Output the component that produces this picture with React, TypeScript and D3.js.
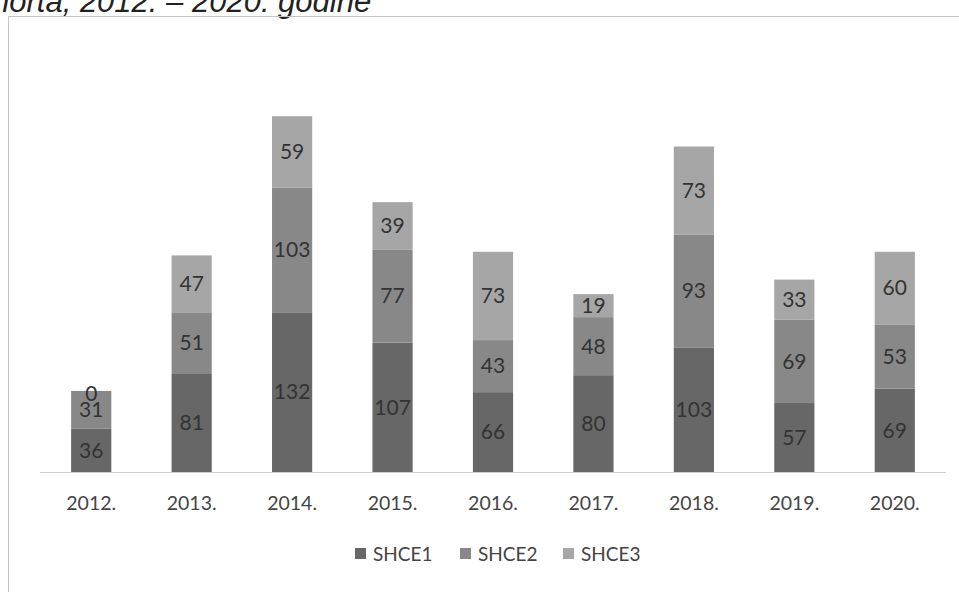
import React, { useEffect, useRef } from 'react';
import * as d3 from 'd3';

const years = ['2012.', '2013.', '2014.', '2015.', '2016.', '2017.', '2018.', '2019.', '2020.'];
const seriesNames = ['SHCE1', 'SHCE2', 'SHCE3'];
const shce1 = [36, 81, 132, 107, 66, 80, 103, 57, 69];
const shce2 = [31, 51, 103, 77, 43, 48, 93, 69, 53];
const shce3 = [0, 47, 59, 39, 73, 19, 73, 33, 60];
const colors = ['#676767', '#888888', '#a6a6a6'];

const App: React.FC = () => {
  const svgRef = useRef<SVGSVGElement>(null);

  useEffect(() => {
    if (!svgRef.current) return;
    const svg = d3.select(svgRef.current);
    svg.selectAll('*').remove();

    const font = 'Lato, "Open Sans", sans-serif';

    // caption above the chart, cut off at the top like the scan
    svg
      .append('text')
      .attr('x', -8)
      .attr('y', 12)
      .attr('font-family', '"Liberation Sans", Arial, sans-serif')
      .attr('font-style', 'italic')
      .attr('font-size', 31)
      .attr('fill', '#222')
      .text('norta, 2012. – 2020. godine');

    // chart frame (top and left edges visible)
    svg
      .append('path')
      .attr('d', 'M8.5,592 V16.5 H959')
      .attr('fill', 'none')
      .attr('stroke', '#c4c4c4')
      .attr('stroke-width', 1);

    const x = d3.scaleBand<string>().domain(years).range([41, 945]).paddingInner(0.6).paddingOuter(0.3);
    const y = d3.scaleLinear().domain([0, 300]).range([472, 109]);

    const table = years.map((yr, i) => ({ year: yr, SHCE1: shce1[i], SHCE2: shce2[i], SHCE3: shce3[i] }));
    const stacked = d3.stack<any>().keys(seriesNames)(table);

    // baseline
    svg
      .append('line')
      .attr('x1', 40)
      .attr('x2', 946)
      .attr('y1', 472.5)
      .attr('y2', 472.5)
      .attr('stroke', '#cfcfcf');

    const layers = svg
      .selectAll('g.layer')
      .data(stacked)
      .enter()
      .append('g')
      .attr('class', 'layer')
      .attr('fill', (_d, i) => colors[i]);

    layers
      .selectAll('rect')
      .data((d) => d)
      .enter()
      .append('rect')
      .attr('x', (d) => x(d.data.year)!)
      .attr('width', x.bandwidth())
      .attr('y', (d) => y(d[1]))
      .attr('height', (d) => y(d[0]) - y(d[1]));

    layers
      .selectAll('text')
      .data((d) => d)
      .enter()
      .append('text')
      .attr('x', (d) => x(d.data.year)! + x.bandwidth() / 2)
      .attr('y', (d) => (y(d[0]) + y(d[1])) / 2)
      .attr('dy', (d) => (d[1] - d[0] === 0 ? '0.5em' : '0.35em'))
      .attr('text-anchor', 'middle')
      .attr('font-family', font)
      .attr('font-size', 21)
      .attr('fill', '#333')
      .text((d) => d[1] - d[0]);

    // x axis labels
    svg
      .append('g')
      .selectAll('text')
      .data(years)
      .enter()
      .append('text')
      .attr('x', (d) => x(d)! + x.bandwidth() / 2)
      .attr('y', 510)
      .attr('text-anchor', 'middle')
      .attr('font-family', font)
      .attr('font-size', 19.5)
      .attr('fill', '#444')
      .text((d) => d);

    // legend
    const legendX = [355, 460, 563];
    const legend = svg
      .append('g')
      .selectAll('g')
      .data(seriesNames)
      .enter()
      .append('g')
      .attr('transform', (_d, i) => `translate(${legendX[i]}, 554)`);

    legend
      .append('rect')
      .attr('x', 0)
      .attr('y', -6)
      .attr('width', 11)
      .attr('height', 11)
      .attr('fill', (_d, i) => colors[i]);

    legend
      .append('text')
      .attr('x', 18)
      .attr('y', 0)
      .attr('dy', '0.35em')
      .attr('font-family', font)
      .attr('font-size', 19)
      .attr('fill', '#444')
      .text((d) => d);
  }, []);

  return (
    <svg
      ref={svgRef}
      width={959}
      height={592}
      style={{ position: 'absolute', left: 0, top: 0, background: '#fff' }}
    ></svg>
  );
};

export default App;
